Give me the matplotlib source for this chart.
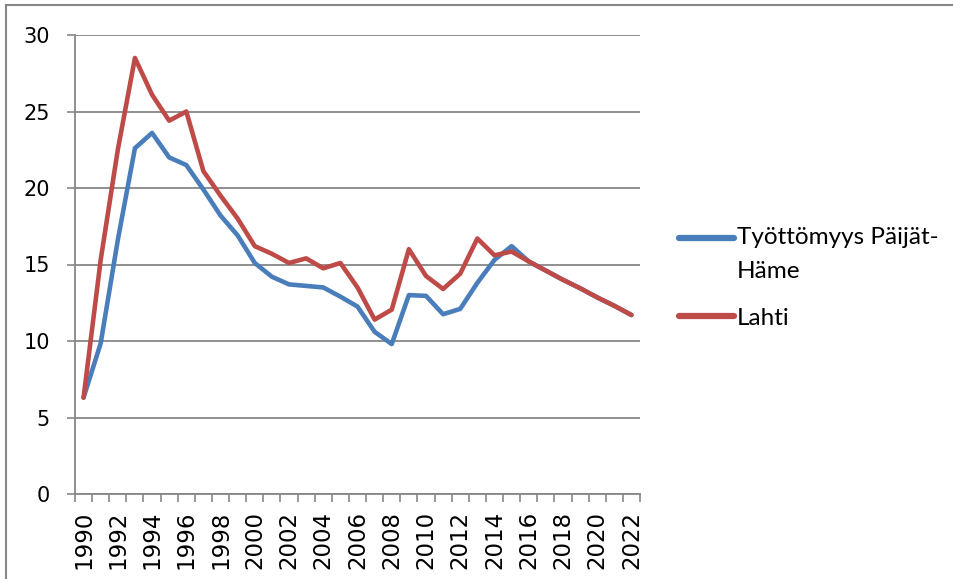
import numpy as np
import matplotlib.pyplot as plt
from matplotlib.lines import Line2D

# data
years = list(range(1990, 2023))
paijat_hame = [6.3, 9.85, 16.6, 22.6, 23.6, 22.0, 21.5, 19.9, 18.2, 16.9,
               15.1, 14.2, 13.7, 13.6, 13.5, 12.9, 12.25, 10.6, 9.8, 13.0,
               12.95, 11.75, 12.1, 13.8, 15.3, 16.2, 15.2, 14.6, 14.0, 13.45,
               12.85, 12.3, 11.7]
lahti = [6.3, 15.3, 22.5, 28.5, 26.1, 24.4, 25.0, 21.1, 19.5, 18.0,
         16.2, 15.7, 15.1, 15.4, 14.75, 15.1, 13.5, 11.4, 12.05, 16.0,
         14.25, 13.4, 14.4, 16.7, 15.6, 15.85, 15.2, 14.6, 14.0, 13.45,
         12.85, 12.3, 11.7]
labels = ["Työttömyys Päijät-\nHäme", "Lahti"]

plt.rcParams['font.family'] = ['DejaVu Sans']

W, H = 954, 579
fig = plt.figure(figsize=(W / 100, H / 100), dpi=100)
ax = fig.add_axes([75 / W, 1 - 494 / H, (640 - 75) / W, (494 - 35) / H])

grey = '#878787'
ax.plot(years, paijat_hame, color='#4A7EBB', lw=3.3, label=labels[0],
        solid_joinstyle='round', solid_capstyle='round')
ax.plot(years, lahti, color='#BE4B48', lw=3.3, label=labels[1],
        solid_joinstyle='round', solid_capstyle='round')

ax.set_xlim(years[0] - 0.5, years[-1] + 0.5)
ax.set_ylim(0, 30)
ax.set_yticks(range(0, 31, 5))
ax.grid(axis='y', color=grey, lw=1.3)
ax.set_axisbelow(True)

# category labels every 2 years, tick marks at category boundaries
ax.set_xticks(years[::2])
ax.set_xticks(np.arange(years[0] - 0.5, years[-1] + 1), minor=True)
ax.tick_params(axis='x', which='major', length=0, pad=12)
ax.tick_params(axis='x', which='minor', length=6, color=grey, width=1.2)
ax.tick_params(axis='y', length=6, color=grey, width=1.2, labelsize=15, pad=12)
ax.set_xticklabels([str(y) for y in years[::2]], rotation=90, fontsize=16.5)

for s in ['top', 'right']:
    ax.spines[s].set_visible(False)
for s in ['left', 'bottom']:
    ax.spines[s].set_color(grey)
    ax.spines[s].set_linewidth(1.3)

leg = fig.legend(loc='center left', bbox_to_anchor=(657 / W, 1 - 278 / H),
                 frameon=False, prop={'family': 'Lato', 'size': 17.5},
                 handlelength=2.25, handletextpad=0.15, labelspacing=1.05)
for line in leg.get_lines():
    line.set_linewidth(4.5)
    line.set_solid_capstyle('round')
for t in leg.get_texts():
    t.set_linespacing(1.75)
# Excel puts the handle level with the first line of a wrapped label
first = leg.get_lines()[0]
first.set_ydata(np.asarray(first.get_ydata()) + 12)

# chart frame (only left and top edges are visible in the reference)
fig.add_artist(Line2D([6 / W, 6 / W], [0, 1 - 5 / H], transform=fig.transFigure,
                      color=grey, lw=1.5))
fig.add_artist(Line2D([6 / W, 1], [1 - 5 / H, 1 - 5 / H],
                      transform=fig.transFigure, color=grey, lw=1.5))

fig.savefig('out.png', dpi=100)
